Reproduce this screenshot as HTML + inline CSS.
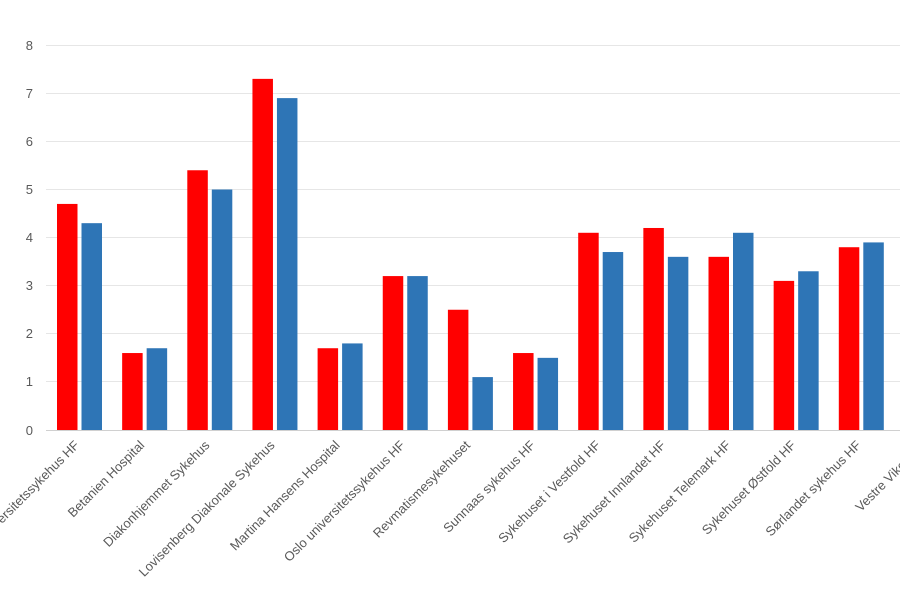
<!DOCTYPE html>
<html><head><meta charset="utf-8"><style>
html,body{margin:0;padding:0;background:#fff;}
svg{display:block;font-family:"Liberation Sans",sans-serif;}
</style></head><body>
<svg width="900" height="600" viewBox="0 0 900 600" xmlns="http://www.w3.org/2000/svg">
<g stroke="#e6e6e6" stroke-width="1">
<line x1="46" x2="900" y1="45.5" y2="45.5"/>
<line x1="46" x2="900" y1="93.5" y2="93.5"/>
<line x1="46" x2="900" y1="141.5" y2="141.5"/>
<line x1="46" x2="900" y1="189.5" y2="189.5"/>
<line x1="46" x2="900" y1="237.5" y2="237.5"/>
<line x1="46" x2="900" y1="285.5" y2="285.5"/>
<line x1="46" x2="900" y1="333.5" y2="333.5"/>
<line x1="46" x2="900" y1="381.5" y2="381.5"/>
</g>
<line x1="46" x2="900" y1="430.5" y2="430.5" stroke="#d0d0d0"/>
<g font-size="13" fill="#595959" text-anchor="end">
<text x="33" y="50">8</text><text x="33" y="98">7</text><text x="33" y="146">6</text>
<text x="33" y="194">5</text><text x="33" y="242">4</text><text x="33" y="290">3</text>
<text x="33" y="338">2</text><text x="33" y="386">1</text><text x="33" y="435">0</text>
</g>
<g fill="#ff0000">
<rect x="57" y="203.93" width="20.5" height="226.07"/>
<rect x="122.15" y="353.04" width="20.5" height="76.96"/>
<rect x="187.3" y="170.26" width="20.5" height="259.74"/>
<rect x="252.45" y="78.87" width="20.5" height="351.13"/>
<rect x="317.6" y="348.23" width="20.5" height="81.77"/>
<rect x="382.75" y="276.08" width="20.5" height="153.92"/>
<rect x="447.9" y="309.75" width="20.5" height="120.25"/>
<rect x="513.05" y="353.04" width="20.5" height="76.96"/>
<rect x="578.2" y="232.79" width="20.5" height="197.21"/>
<rect x="643.35" y="227.98" width="20.5" height="202.02"/>
<rect x="708.5" y="256.84" width="20.5" height="173.16"/>
<rect x="773.65" y="280.89" width="20.5" height="149.11"/>
<rect x="838.8" y="247.22" width="20.5" height="182.78"/>
</g>
<g fill="#2e75b6">
<rect x="81.5" y="223.17" width="20.5" height="206.83"/>
<rect x="146.65" y="348.23" width="20.5" height="81.77"/>
<rect x="211.8" y="189.5" width="20.5" height="240.5"/>
<rect x="276.95" y="98.11" width="20.5" height="331.89"/>
<rect x="342.1" y="343.42" width="20.5" height="86.58"/>
<rect x="407.25" y="276.08" width="20.5" height="153.92"/>
<rect x="472.4" y="377.09" width="20.5" height="52.91"/>
<rect x="537.55" y="357.85" width="20.5" height="72.15"/>
<rect x="602.7" y="252.03" width="20.5" height="177.97"/>
<rect x="667.85" y="256.84" width="20.5" height="173.16"/>
<rect x="733" y="232.79" width="20.5" height="197.21"/>
<rect x="798.15" y="271.27" width="20.5" height="158.73"/>
<rect x="863.3" y="242.41" width="20.5" height="187.59"/>
</g>
<g font-size="13" fill="#595959" text-anchor="end">
<text transform="translate(80,446) rotate(-45)">Akershus universitetssykehus HF</text>
<text transform="translate(145.15,446) rotate(-45)">Betanien Hospital</text>
<text transform="translate(210.3,446) rotate(-45)">Diakonhjemmet Sykehus</text>
<text transform="translate(275.45,446) rotate(-45)">Lovisenberg Diakonale Sykehus</text>
<text transform="translate(340.6,446) rotate(-45)">Martina Hansens Hospital</text>
<text transform="translate(405.75,446) rotate(-45)">Oslo universitetssykehus HF</text>
<text transform="translate(470.9,446) rotate(-45)">Revmatismesykehuset</text>
<text transform="translate(536.05,446) rotate(-45)">Sunnaas sykehus HF</text>
<text transform="translate(601.2,446) rotate(-45)">Sykehuset i Vestfold HF</text>
<text transform="translate(666.35,446) rotate(-45)">Sykehuset Innlandet HF</text>
<text transform="translate(731.5,446) rotate(-45)">Sykehuset Telemark HF</text>
<text transform="translate(796.65,446) rotate(-45)">Sykehuset Østfold HF</text>
<text transform="translate(861.8,446) rotate(-45)">Sørlandet sykehus HF</text>
<text transform="translate(926.95,446) rotate(-45)">Vestre Viken HF</text>
</g>
</svg>
</body></html>
